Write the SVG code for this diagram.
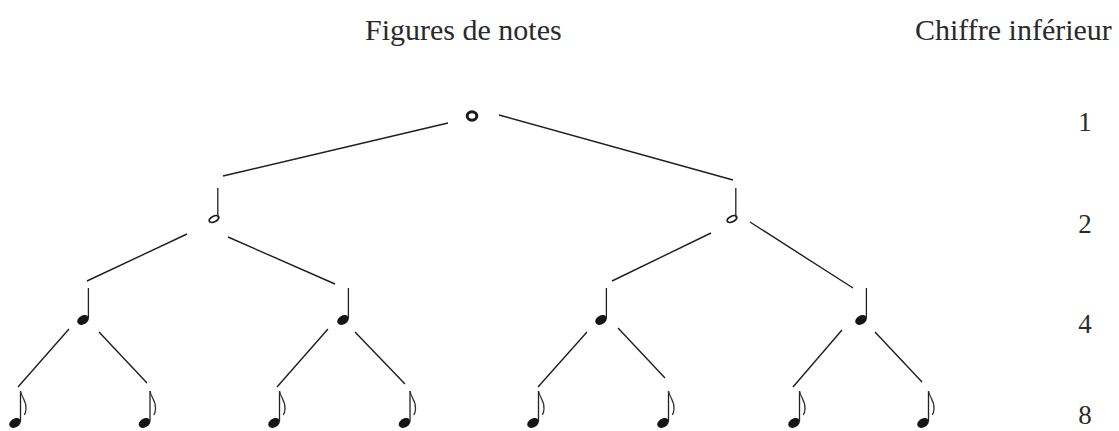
<svg xmlns="http://www.w3.org/2000/svg" xmlns:xlink="http://www.w3.org/1999/xlink" width="1119" height="431" viewBox="0 0 1119 431">
<style>
.title{font-family:"Liberation Serif","Times New Roman",serif;font-size:30px;fill:#2a2a2a}
.num{font-family:"Liberation Serif","Times New Roman",serif;font-size:27px;fill:#2a2a2a;text-anchor:middle}
.conn line{stroke:#1e1e1e;stroke-width:1.4;fill:none}
.stem{stroke:#222;stroke-width:1.3;fill:none}
</style>
<defs>
<symbol id="whole" overflow="visible">
<ellipse cx="0" cy="0" rx="4.8" ry="4.2" fill="none" stroke="#1a1a1a" stroke-width="3"/>
</symbol>
<symbol id="half" overflow="visible">
<ellipse cx="0" cy="0" rx="5.2" ry="2.8" transform="rotate(-25)" fill="none" stroke="#1a1a1a" stroke-width="1.7"/>
<line class="stem" x1="3.8" y1="-1.5" x2="3.8" y2="-31"/>
</symbol>
<symbol id="quarter" overflow="visible">
<ellipse cx="0" cy="0" rx="6.2" ry="4.4" transform="rotate(-30)" fill="#151515"/>
<line class="stem" x1="5.4" y1="-1.5" x2="5.4" y2="-32"/>
</symbol>
<symbol id="eighth" overflow="visible">
<ellipse cx="0" cy="0" rx="6.2" ry="4.4" transform="rotate(-30)" fill="#151515"/>
<line class="stem" x1="5.5" y1="-1.5" x2="5.5" y2="-32"/>
<path d="M5.5,-32 C6.5,-25 11.5,-23 11,-14 C10.8,-11 10,-9 9.3,-8" fill="none" stroke="#333" stroke-width="1.3"/>
</symbol>
</defs>
<rect width="1119" height="431" fill="#ffffff"/>
<text class="title" x="365" y="40">Figures de notes</text>
<text class="title" x="915" y="40">Chiffre inférieur</text>
<g id="labels">
<text class="num" x="1085" y="131">1</text>
<text class="num" x="1085" y="233">2</text>
<text class="num" x="1085" y="333">4</text>
<text class="num" x="1085" y="424">8</text>
</g>
<g id="connectors" class="conn">
<line x1="448" y1="123" x2="223" y2="176"/>
<line x1="499" y1="115" x2="733" y2="180"/>
<line x1="187" y1="234" x2="87" y2="281"/>
<line x1="228" y1="237" x2="335" y2="284"/>
<line x1="711" y1="233" x2="612" y2="281"/>
<line x1="750" y1="222" x2="853" y2="288"/>
<line x1="69" y1="329" x2="18" y2="387"/>
<line x1="99" y1="332" x2="147" y2="383"/>
<line x1="328" y1="329" x2="277" y2="387"/>
<line x1="355" y1="332" x2="405" y2="384"/>
<line x1="587" y1="332" x2="538" y2="387"/>
<line x1="618" y1="328" x2="665" y2="378"/>
<line x1="842" y1="330" x2="793" y2="387"/>
<line x1="875" y1="332" x2="922" y2="382"/>
</g>
<g id="n-whole"><use xlink:href="#whole" x="472" y="116"/></g>
<g id="n-half1"><use xlink:href="#half" x="214" y="219"/></g>
<g id="n-half2"><use xlink:href="#half" x="732" y="219"/></g>
<g id="n-q1"><use xlink:href="#quarter" x="83" y="320"/></g>
<g id="n-q2"><use xlink:href="#quarter" x="343" y="320"/></g>
<g id="n-q3"><use xlink:href="#quarter" x="601" y="320"/></g>
<g id="n-q4"><use xlink:href="#quarter" x="861" y="320"/></g>
<g id="n-e1"><use xlink:href="#eighth" x="15" y="423"/></g>
<g id="n-e2"><use xlink:href="#eighth" x="144.5" y="423"/></g>
<g id="n-e3"><use xlink:href="#eighth" x="274" y="423"/></g>
<g id="n-e4"><use xlink:href="#eighth" x="404.5" y="423"/></g>
<g id="n-e5"><use xlink:href="#eighth" x="533" y="423"/></g>
<g id="n-e6"><use xlink:href="#eighth" x="663" y="423"/></g>
<g id="n-e7"><use xlink:href="#eighth" x="794" y="423"/></g>
<g id="n-e8"><use xlink:href="#eighth" x="923" y="423"/></g>
</svg>
